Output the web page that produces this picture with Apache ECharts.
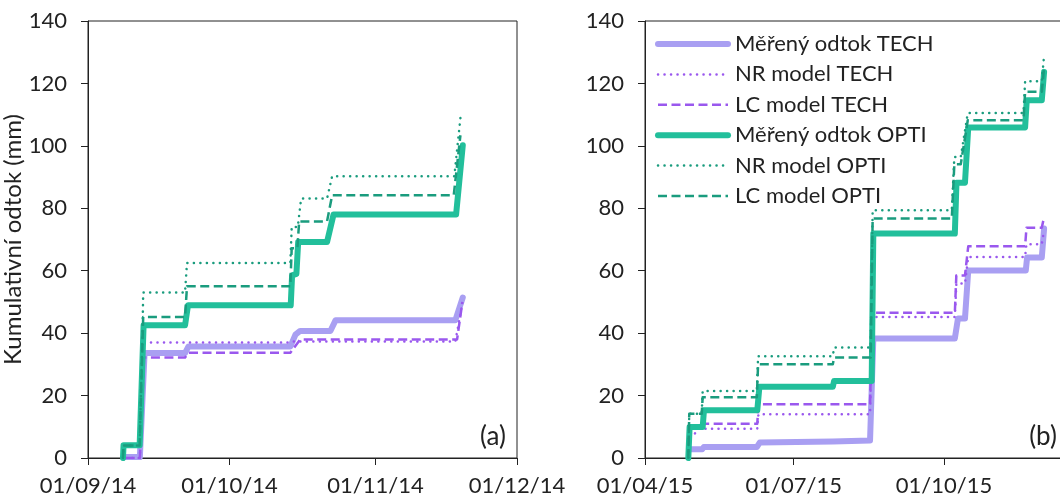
<!DOCTYPE html>
<html>
<head>
<meta charset="utf-8">
<script src="https://cdn.jsdelivr.net/npm/echarts@6/dist/echarts.min.js"></script>
<style>
  html, body { margin: 0; padding: 0; background: #fff; }
  #chart { width: 1060px; height: 498px; }
</style>
</head>
<body>
<div id="chart"></div>
<script>
// ---- Data (date 'YYYY-MM-DD HH', cumulative runoff mm) ----
const seriesNames = ['Měřený odtok TECH', 'NR model TECH', 'LC model TECH', 'Měřený odtok OPTI', 'NR model OPTI', 'LC model OPTI'];

const yTicks = [0, 20, 40, 60, 80, 100, 120, 140];
const xTicksA = ['2014-09-01 00', '2014-10-01 00', '2014-11-01 00', '2014-12-01 00'];
const xRangeA = ['2014-09-01 00', '2014-12-01 00'];
const xTicksB = ['2015-04-01 00', '2015-07-01 00', '2015-10-01 00'];
const xRangeB = ['2015-04-01 00', '2015-12-19 12'];
const panelLabels = ['(a)', '(b)'];

// Panel (a)
const measTechA = [['2014-09-09 00',0.3],['2014-09-12 00',0.3],['2014-09-13 00',33.6],['2014-09-21 14',33.6],['2014-09-22 07',35.7],['2014-10-13 22',35.7],['2014-10-15 00',39.5],['2014-10-16 00',40.7],['2014-10-22 10',40.7],['2014-10-23 12',44.1],['2014-11-17 22',44.1],['2014-11-19 12',51.4]];
const nrTechA = [['2014-09-09 00',0],['2014-09-12 00',0],['2014-09-12 22',37.0],['2014-10-13 22',37.0],['2014-10-14 12',37.3],['2014-11-17 22',37.3],['2014-11-19 07',48.5]];
const lcTechA = [['2014-09-09 00',0],['2014-09-12 00',0],['2014-09-12 22',32.2],['2014-09-21 14',32.2],['2014-09-22 07',33.7],['2014-10-13 22',33.7],['2014-10-16 00',38.0],['2014-11-18 07',38.0],['2014-11-19 10',50.0]];
const measOptiA = [['2014-09-08 10',0],['2014-09-08 13',4.1],['2014-09-11 23',4.1],['2014-09-12 19',42.5],['2014-09-21 14',42.5],['2014-09-22 05',48.9],['2014-10-14 00',48.9],['2014-10-14 07',58.5],['2014-10-15 05',59.0],['2014-10-15 14',69.2],['2014-10-21 17',69.2],['2014-10-23 02',78.0],['2014-11-18 02',78.0],['2014-11-19 12',100.2]];
const nrOptiA = [['2014-09-08 10',0],['2014-09-08 13',4],['2014-09-11 23',4],['2014-09-12 14',42],['2014-09-12 17',53.0],['2014-09-21 14',53.0],['2014-09-22 00',62.5],['2014-10-13 22',62.5],['2014-10-14 05',74],['2014-10-15 12',74],['2014-10-16 05',83.1],['2014-10-21 17',83.1],['2014-10-22 19',90.3],['2014-11-17 17',90.3],['2014-11-19 02',110.1]];
const lcOptiA = [['2014-09-08 10',0],['2014-09-08 13',4],['2014-09-11 23',4],['2014-09-12 17',45.2],['2014-09-21 14',45.2],['2014-09-22 00',55.0],['2014-10-13 22',55.0],['2014-10-14 05',67.2],['2014-10-15 10',67.2],['2014-10-15 19',75.8],['2014-10-21 17',75.8],['2014-10-22 19',84.2],['2014-11-17 14',84.2],['2014-11-19 00',103.4]];

// Panel (b)
const measTechB = [['2015-04-28 07',2.8],['2015-05-06 00',2.8],['2015-05-07 00',3.5],['2015-06-08 10',3.5],['2015-06-10 07',5.0],['2015-07-25 00',5.3],['2015-08-16 17',5.6],['2015-08-18 17',38.3],['2015-10-07 14',38.3],['2015-10-09 12',44.7],['2015-10-13 19',44.7],['2015-10-15 19',60.1],['2015-11-20 00',60.1],['2015-11-20 19',64.2],['2015-11-29 19',64.2],['2015-12-01 05',73.5]];
const nrTechB = [['2015-05-01 14',7.9],['2015-05-03 12',9.4],['2015-06-08 17',9.4],['2015-06-09 10',14.0],['2015-08-16 17',14.0],['2015-08-18 00',45.2],['2015-10-07 14',45.2],['2015-10-08 12',55.9],['2015-10-13 19',55.9],['2015-10-15 19',64.4],['2015-11-19 14',64.4],['2015-11-20 10',68.5],['2015-11-29 19',68.5],['2015-12-01 05',73.0]];
const lcTechB = [['2015-05-06 07',10.0],['2015-05-06 17',11.0],['2015-06-08 17',11.0],['2015-06-09 10',17.2],['2015-08-16 17',17.2],['2015-08-18 00',46.5],['2015-10-07 14',46.5],['2015-10-08 12',58.5],['2015-10-13 19',58.5],['2015-10-15 19',67.8],['2015-11-19 14',67.8],['2015-11-20 10',73.8],['2015-11-29 19',73.8],['2015-12-01 05',77.2]];
const measOptiB = [['2015-04-27 12',0],['2015-04-28 07',9.9],['2015-05-06 07',9.9],['2015-05-07 02',15.3],['2015-06-08 17',15.3],['2015-06-10 00',22.8],['2015-07-24 22',22.8],['2015-07-25 17',24.7],['2015-08-17 17',24.7],['2015-08-18 17',71.9],['2015-10-07 14',71.9],['2015-10-08 14',88.2],['2015-10-13 19',88.2],['2015-10-15 19',105.9],['2015-11-19 14',105.9],['2015-11-20 14',114.6],['2015-11-29 19',114.6],['2015-12-01 05',123.7]];
const nrOptiB = [['2015-04-27 12',0],['2015-04-28 02',14.2],['2015-05-05 17',14.2],['2015-05-06 07',21.5],['2015-06-08 10',21.5],['2015-06-09 05',32.6],['2015-07-24 22',32.6],['2015-07-25 17',35.4],['2015-08-17 02',35.4],['2015-08-18 07',79.4],['2015-10-05 17',79.4],['2015-10-07 07',96.4],['2015-10-11 05',96.4],['2015-10-15 12',110.5],['2015-11-18 14',110.5],['2015-11-19 14',120.7],['2015-11-29 19',120.7],['2015-12-01 05',129.0]];
const lcOptiB = [['2015-04-27 12',0],['2015-04-28 02',14.2],['2015-05-05 17',14.2],['2015-05-06 07',19.5],['2015-06-08 10',19.5],['2015-06-09 05',30.0],['2015-07-24 22',30.0],['2015-07-25 17',32.2],['2015-08-17 02',32.2],['2015-08-18 07',76.7],['2015-10-05 17',76.7],['2015-10-07 07',94.1],['2015-10-11 05',94.1],['2015-10-15 12',108.2],['2015-11-18 14',108.2],['2015-11-19 14',117.3],['2015-11-29 19',117.3],['2015-12-01 05',125.0]];

// ---- helpers ----
function ts(s) {
  const p = s.split(/[- ]/).map(Number);
  return Date.UTC(p[0], p[1] - 1, p[2], p[3] || 0);
}
function conv(arr) { return arr.map(d => [ts(d[0]), d[1]]); }
function pad(n) { return (n < 10 ? '0' : '') + n; }
function fmtDate(v) {
  const d = new Date(v);
  return pad(d.getUTCDate()) + '/' + pad(d.getUTCMonth() + 1) + '/' + pad(d.getUTCFullYear() % 100);
}

const FONT = 'Lato';
const TXT = '#222';
const styles = [
  { color: '#a99ff2', width: 6, type: 'solid', cap: 'round' },
  { color: '#9a58ee', width: 2.5, type: [0.1, 6.4], cap: 'round' },
  { color: '#9a58ee', width: 2.5, type: [9, 4.5], cap: 'butt' },
  { color: '#22bf9b', width: 6, type: 'solid', cap: 'round' },
  { color: '#1a9c7e', width: 2.5, type: [0.1, 6.4], cap: 'round' },
  { color: '#1a9c7e', width: 2.5, type: [9, 4.5], cap: 'butt' }
];
const dataA = [measTechA, nrTechA, lcTechA, measOptiA, nrOptiA, lcOptiA];
const dataB = [measTechB, nrTechB, lcTechB, measOptiB, nrOptiB, lcOptiB];

function lineStyleOf(i) {
  return { color: styles[i].color, width: styles[i].width, type: styles[i].type, cap: styles[i].cap, join: 'round' };
}

function makeSeries(data, idx) {
  return data.map((d, i) => ({
    name: seriesNames[i],
    type: 'line',
    xAxisIndex: idx,
    yAxisIndex: idx,
    data: conv(d),
    symbol: 'none',
    showSymbol: false,
    clip: true,
    silent: true,
    itemStyle: { color: styles[i].color },
    lineStyle: lineStyleOf(i),
    emphasis: { disabled: true },
    z: 2 + i
  }));
}

function xAxis(idx, ticks, range) {
  const vals = ticks.map(ts);
  return {
    type: 'value', gridIndex: idx,
    min: ts(range[0]), max: ts(range[1]),
    axisLine: { show: true, onZero: false, lineStyle: { color: TXT, width: 1 } },
    axisTick: { show: true, length: 7, customValues: vals, lineStyle: { color: TXT } },
    axisLabel: { show: true, customValues: vals, formatter: fmtDate, margin: 17, fontSize: 22, fontFamily: FONT, color: TXT, showMinLabel: true, showMaxLabel: true, hideOverlap: false },
    splitLine: { show: false }
  };
}
function yAxis(idx, withName) {
  return {
    type: 'value', gridIndex: idx,
    min: yTicks[0], max: yTicks[yTicks.length - 1], interval: yTicks[1] - yTicks[0],
    name: withName ? 'Kumulativní odtok (mm)' : '',
    nameLocation: 'middle', nameGap: 49, nameRotate: 90,
    nameTextStyle: { fontSize: 24, fontFamily: FONT, color: TXT },
    axisLine: { show: true, lineStyle: { color: TXT, width: 1 } },
    axisTick: { show: true, length: 7, lineStyle: { color: TXT } },
    axisLabel: { margin: 21, fontSize: 22, fontFamily: FONT, color: TXT },
    splitLine: { show: false }
  };
}

const chart = echarts.init(document.getElementById('chart'), null, { renderer: 'canvas' });
chart.setOption({
  animation: false,
  backgroundColor: '#fff',
  grid: [
    { left: 88, top: 21, width: 429, height: 437, containLabel: false, outerBoundsMode: 'none', show: true, borderColor: TXT, borderWidth: 1, backgroundColor: 'transparent' },
    { left: 645, top: 21, width: 429, height: 437, containLabel: false, outerBoundsMode: 'none', show: true, borderColor: TXT, borderWidth: 1, backgroundColor: 'transparent' }
  ],
  xAxis: [xAxis(0, xTicksA, xRangeA), xAxis(1, xTicksB, xRangeB)],
  yAxis: [yAxis(0, true), yAxis(1, false)],
  legend: {
    data: seriesNames.map((n, i) => ({ name: n, lineStyle: lineStyleOf(i) })),
    orient: 'vertical',
    left: 650, top: 28,
    itemWidth: 70, itemHeight: 14, itemGap: 8.4,
    selectedMode: false,
    itemStyle: { color: 'rgba(0,0,0,0)', borderWidth: 0, opacity: 0 },
    textStyle: { fontSize: 22, fontFamily: FONT, color: TXT, padding: [0, 0, 0, 2] }
  },
  graphic: [
    { type: 'text', x: 493, y: 437, style: { text: panelLabels[0], fontSize: 26, fontFamily: FONT, fill: TXT, align: 'center', verticalAlign: 'middle' } },
    { type: 'text', x: 1043, y: 437, style: { text: panelLabels[1], fontSize: 26, fontFamily: FONT, fill: TXT, align: 'center', verticalAlign: 'middle' } }
  ],
  series: makeSeries(dataA, 0).concat(makeSeries(dataB, 1))
});
</script>
</body>
</html>
